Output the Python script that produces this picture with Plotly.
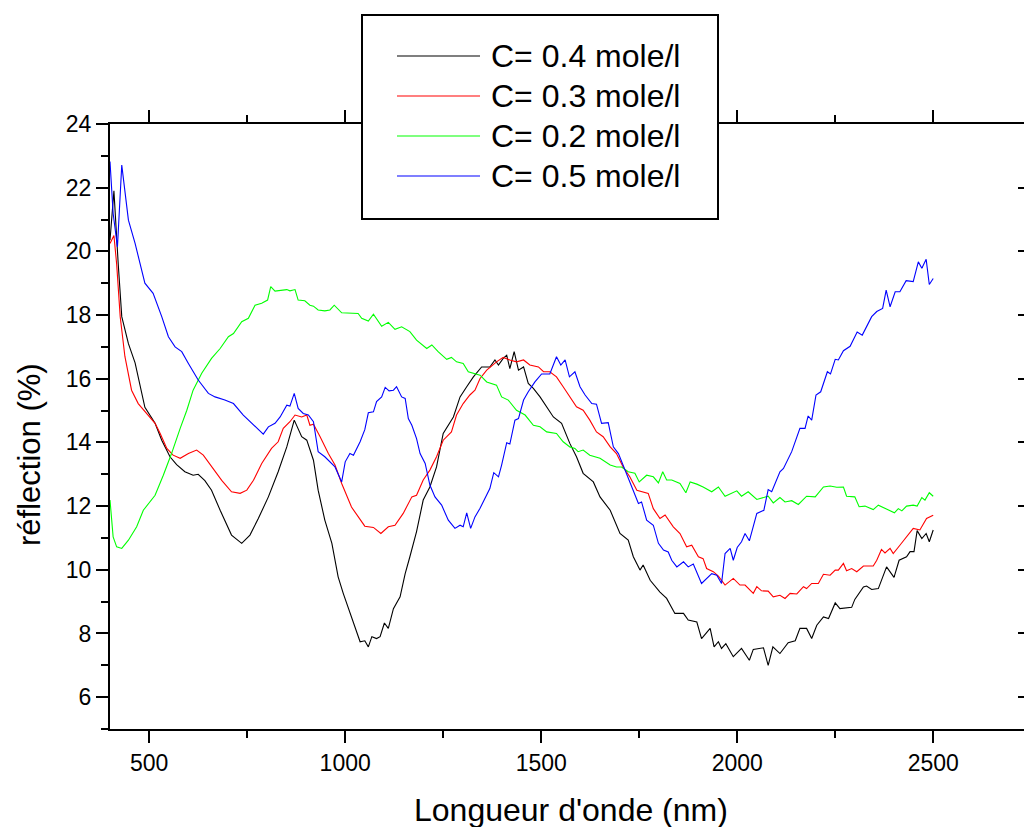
import plotly.graph_objects as go

# ---------------- data ----------------
names = ["C= 0.4 mole/l", "C= 0.3 mole/l", "C= 0.2 mole/l", "C= 0.5 mole/l"]
colors = ["#000000", "#ff0000", "#00ff00", "#0000ff"]

x_c04 = [400, 410, 421, 430, 447, 464, 489, 515, 532, 553,
         570, 591, 612, 625, 642, 659, 681, 710, 736, 757,
         778, 804, 829, 851, 870, 889, 902, 919, 931, 948,
         966, 982, 995, 1016, 1038, 1050, 1059, 1068, 1080, 1089,
         1100, 1110, 1123, 1140, 1153, 1165, 1182, 1199, 1216, 1233,
         1250, 1276, 1293, 1310, 1327, 1348, 1369, 1382, 1391, 1403,
         1412, 1420, 1431, 1442, 1455, 1467, 1480, 1497, 1514, 1531,
         1552, 1573, 1590, 1607, 1633, 1650, 1676, 1701, 1722, 1735,
         1752, 1760, 1778, 1803, 1820, 1841, 1863, 1875, 1897, 1909,
         1931, 1941, 1952, 1960, 1971, 1990, 2011, 2031, 2041, 2067,
         2079, 2091, 2109, 2130, 2148, 2160, 2177, 2190, 2203, 2220,
         2233, 2250, 2262, 2292, 2300, 2322, 2330, 2343, 2360, 2368,
         2381, 2400, 2413, 2432, 2441, 2451, 2459, 2471, 2482, 2490,
         2500]
y_c04 = [20.35, 21.9, 19.6, 17.95, 17.1, 16.5, 15.1, 14.6, 14.07, 13.55,
         13.3, 13.08, 12.97, 13.0, 12.8, 12.5, 11.87, 11.09, 10.83, 11.09,
         11.6, 12.29, 13.08, 13.86, 14.7, 14.18, 14.07, 13.44, 12.5, 11.56,
         10.83, 9.78, 9.26, 8.52, 7.74, 7.77, 7.58, 7.9, 7.84, 7.9,
         8.33, 8.16, 8.78, 9.15, 9.88, 10.41, 11.2, 12.19, 12.6, 13.23,
         14.28, 14.8, 15.43, 15.75, 16.06, 16.37, 16.37, 16.59, 16.43, 16.64,
         16.74, 16.32, 16.85, 16.27, 16.37, 15.85, 15.7, 15.43, 15.12, 14.8,
         14.6, 13.97, 13.55, 13.03, 12.76, 12.29, 11.87, 11.14, 10.93, 10.41,
         9.99, 10.15, 9.67, 9.3, 9.1, 8.63, 8.63, 8.42, 8.36, 7.84,
         8.16, 7.58, 7.74, 7.53, 7.68, 7.27, 7.53, 7.16, 7.5, 7.55,
         7.0, 7.58, 7.37, 7.71, 7.77, 8.16, 8.16, 7.84, 8.26, 8.52,
         8.47, 8.96, 8.78, 8.82, 9.07, 9.46, 9.49, 9.38, 9.41, 9.67,
         10.09, 9.76, 10.3, 10.41, 10.57, 10.57, 11.23, 10.98, 11.14, 10.88,
         11.25]

x_c03 = [400, 410, 417, 426, 438, 455, 472, 494, 515, 528,
         545, 561, 579, 600, 621, 638, 659, 685, 710, 732,
         749, 766, 787, 812, 829, 842, 859, 872, 889, 902,
         910, 919, 936, 957, 974, 991, 1016, 1033, 1050, 1072,
         1091, 1110, 1127, 1148, 1170, 1182, 1199, 1216, 1233, 1250,
         1271, 1284, 1301, 1318, 1331, 1344, 1361, 1386, 1403, 1420,
         1437, 1455, 1471, 1493, 1506, 1522, 1539, 1556, 1573, 1590,
         1607, 1624, 1641, 1658, 1676, 1692, 1709, 1726, 1744, 1760,
         1773, 1786, 1803, 1816, 1837, 1854, 1871, 1884, 1901, 1913,
         1922, 1939, 1952, 1969, 1990, 2007, 2020, 2041, 2050, 2062,
         2079, 2092, 2109, 2122, 2135, 2152, 2169, 2177, 2190, 2207,
         2220, 2237, 2250, 2258, 2271, 2279, 2292, 2305, 2322, 2347,
         2356, 2368, 2377, 2390, 2398, 2415, 2432, 2449, 2466, 2483,
         2500]
y_c03 = [20.25, 20.5, 19.6, 17.95, 16.7, 15.64, 15.22, 14.9, 14.6, 14.28,
         13.81, 13.6, 13.5, 13.65, 13.76, 13.6, 13.23, 12.81, 12.45, 12.4,
         12.5, 12.81, 13.34, 13.81, 14.02, 14.44, 14.65, 14.86, 14.8, 14.86,
         14.54, 14.57, 14.18, 13.65, 13.29, 12.71, 11.97, 11.66, 11.37, 11.33,
         11.14, 11.35, 11.4, 11.77, 12.29, 12.34, 12.82, 13.13, 13.55, 14.07,
         14.33, 14.86, 15.22, 15.49, 15.64, 16.01, 16.27, 16.53, 16.67, 16.59,
         16.53, 16.59, 16.43, 16.37, 16.22, 16.22, 16.06, 15.75, 15.43, 15.12,
         15.01, 14.7, 14.33, 14.18, 13.86, 13.65, 13.23, 12.92, 12.5, 12.45,
         12.4, 11.92, 11.61, 11.72, 11.35, 11.14, 10.72, 10.77, 10.41, 10.35,
         10.04, 9.94, 9.8, 9.52, 9.73, 9.52, 9.52, 9.26, 9.47, 9.34,
         9.33, 9.15, 9.2, 9.1, 9.26, 9.24, 9.47, 9.41, 9.57, 9.57,
         9.86, 9.83, 9.99, 9.99, 10.2, 9.97, 10.04, 9.94, 10.12, 10.12,
         10.3, 10.64, 10.53, 10.67, 10.51, 10.77, 11.03, 11.3, 11.25, 11.61,
         11.71]

x_c02 = [400, 408, 417, 430, 447, 468, 485, 498, 515, 536,
         557, 579, 596, 612, 634, 659, 681, 702, 715, 736,
         753, 770, 787, 802, 810, 821, 838, 851, 859, 872,
         880, 897, 910, 919, 931, 948, 961, 972, 991, 1016,
         1033, 1042, 1059, 1072, 1080, 1093, 1110, 1127, 1144, 1165,
         1182, 1208, 1221, 1237, 1259, 1271, 1284, 1301, 1314, 1327,
         1344, 1361, 1386, 1399, 1416, 1437, 1459, 1480, 1497, 1514,
         1539, 1556, 1573, 1586, 1594, 1607, 1624, 1650, 1676, 1692,
         1705, 1722, 1739, 1750, 1769, 1786, 1799, 1810, 1820, 1833,
         1854, 1869, 1880, 1897, 1913, 1935, 1952, 1969, 1982, 1999,
         2011, 2028, 2050, 2067, 2079, 2092, 2109, 2122, 2139, 2156,
         2177, 2199, 2220, 2237, 2254, 2271, 2279, 2300, 2311, 2326,
         2347, 2360, 2381, 2401, 2411, 2420, 2432, 2449, 2459, 2471,
         2479, 2490, 2500]
y_c02 = [12.19, 11.03, 10.72, 10.67, 10.93, 11.35, 11.87, 12.08, 12.34, 12.97,
         13.65, 14.44, 15.01, 15.64, 16.17, 16.64, 16.95, 17.32, 17.42, 17.79,
         17.9, 18.31, 18.37, 18.47, 18.89, 18.75, 18.78, 18.8, 18.76, 18.8,
         18.47, 18.45, 18.31, 18.28, 18.16, 18.13, 18.16, 18.31, 18.07, 18.07,
         18.05, 17.9, 17.81, 18.03, 17.9, 17.65, 17.77, 17.55, 17.63, 17.48,
         17.21, 16.95, 17.06, 16.85, 16.61, 16.67, 16.53, 16.48, 16.22, 16.17,
         16.11, 15.9, 15.8, 15.43, 15.33, 15.01, 14.86, 14.54, 14.49, 14.33,
         14.28, 14.02, 13.86, 13.81, 13.71, 13.76, 13.6, 13.5, 13.29, 13.23,
         13.23, 13.08, 13.03, 12.76, 12.97, 12.92, 12.73, 13.08, 12.82, 12.82,
         12.71, 12.42, 12.76, 12.69, 12.6, 12.45, 12.6, 12.31, 12.39, 12.48,
         12.31, 12.45, 12.21, 12.27, 12.31, 12.1, 12.27, 12.13, 12.17, 12.05,
         12.31, 12.29, 12.6, 12.63, 12.59, 12.6, 12.31, 12.29, 11.98, 12.0,
         11.89, 12.03, 11.92, 11.79, 11.92, 11.85, 12.0, 12.03, 12.0, 12.27,
         12.19, 12.42, 12.31]

x_c05 = [400, 408, 419, 430, 447, 464, 489, 510, 532, 549,
         566, 583, 600, 625, 651, 668, 693, 715, 740, 757,
         778, 791, 804, 821, 834, 851, 859, 870, 880, 893,
         906, 919, 931, 948, 974, 991, 1000, 1012, 1021, 1038,
         1050, 1059, 1072, 1080, 1093, 1102, 1112, 1123, 1131, 1144,
         1153, 1161, 1170, 1182, 1191, 1204, 1216, 1229, 1246, 1263,
         1280, 1293, 1301, 1310, 1320, 1331, 1344, 1357, 1369, 1379,
         1391, 1399, 1412, 1420, 1433, 1442, 1455, 1467, 1484, 1501,
         1522, 1539, 1550, 1561, 1572, 1586, 1599, 1612, 1629, 1641,
         1654, 1671, 1684, 1697, 1709, 1726, 1748, 1756, 1769, 1786,
         1799, 1812, 1824, 1833, 1846, 1863, 1875, 1888, 1909, 1935,
         1948, 1960, 1969, 1982, 1990, 2000, 2011, 2020, 2031, 2050,
         2068, 2079, 2088, 2109, 2118, 2139, 2160, 2173, 2181, 2190,
         2201, 2213, 2230, 2238, 2250, 2258, 2271, 2288, 2306, 2319,
         2343, 2356, 2371, 2380, 2390, 2403, 2415, 2431, 2449, 2462,
         2471, 2482, 2490, 2500]
y_c05 = [22.82, 21.19, 20.14, 22.71, 20.98, 20.25, 19.0, 18.68, 17.95, 17.32,
         17.0, 16.85, 16.48, 15.96, 15.54, 15.43, 15.33, 15.22, 14.86, 14.65,
         14.39, 14.26, 14.49, 14.6, 14.8, 15.17, 15.14, 15.54, 15.07, 14.91,
         14.86, 14.65, 13.71, 13.55, 13.23, 12.76, 13.39, 13.65, 13.6, 14.02,
         14.4, 14.93, 14.96, 15.28, 15.43, 15.73, 15.62, 15.64, 15.75, 15.43,
         15.38, 14.75, 14.54, 14.12, 13.65, 13.34, 12.66, 12.29, 12.03, 11.56,
         11.3, 11.4, 11.35, 11.79, 11.3, 11.66, 11.93, 12.24, 12.55, 13.05,
         12.92, 13.29, 13.99, 13.95, 14.7, 14.75, 15.33, 15.59, 15.9, 16.15,
         16.15, 16.69, 16.43, 16.59, 16.06, 16.22, 15.75, 15.49, 15.22, 15.2,
         14.6, 14.62, 13.86, 13.65, 13.29, 12.76, 12.08, 12.13, 11.56, 11.4,
         10.83, 10.62, 10.56, 10.3, 10.09, 10.25, 10.09, 10.18, 9.57, 9.88,
         9.83, 9.57, 10.51, 10.67, 10.3, 10.7, 10.88, 11.14, 10.91, 11.77,
         11.87, 12.52, 12.45, 13.08, 13.18, 13.71, 14.44, 14.44, 14.83, 14.7,
         15.49, 15.59, 16.22, 16.15, 16.61, 16.59, 16.88, 17.02, 17.47, 17.37,
         17.95, 18.11, 18.21, 18.78, 18.26, 18.73, 18.73, 19.08, 19.05, 19.67,
         19.47, 19.75, 18.96, 19.15]

x_range = [400, 2731.6]
y_range = [5, 24]
x_ticks = [500, 1000, 1500, 2000, 2500]
y_ticks = [6, 8, 10, 12, 14, 16, 18, 20, 22, 24]
x_title = "Longueur d'onde (nm)"
y_title = "réflection (%)"

series_x = [x_c04, x_c03, x_c02, x_c05]
series_y = [y_c04, y_c03, y_c02, y_c05]

# ---------------- figure ----------------
W, H = 1024, 827
ML, MR, MT, MB = 110, 0, 124, 98
PW, PH = W - ML - MR, H - MT - MB
FONT = "Liberation Sans, Arial, Helvetica, sans-serif"

fig = go.Figure()
for xs, ys, nm, col in zip(series_x, series_y, names, colors):
    assert len(xs) == len(ys), nm
    fig.add_trace(go.Scatter(x=xs, y=ys, mode="lines", name=nm,
                             line=dict(color=col, width=1.1),
                             showlegend=False))

# invisible companion trace so the right-hand (mirror) tick axis is drawn
fig.add_trace(go.Scatter(x=x_c04, y=y_c04, yaxis="y2", mode="lines",
                         line=dict(width=0), opacity=0, showlegend=False,
                         hoverinfo="skip"))

axis_common = dict(showgrid=False, zeroline=False, linecolor="black",
                   linewidth=2, tickcolor="black", tickwidth=2,
                   tickfont=dict(family=FONT, size=23, color="black"))

fig.update_layout(
    width=W, height=H,
    margin=dict(l=ML, r=MR, t=MT, b=MB, pad=0),
    paper_bgcolor="white", plot_bgcolor="white",
    font=dict(family=FONT, color="black"),
    showlegend=False,
    xaxis=dict(range=x_range, tickvals=x_ticks, showline=True, mirror="ticks",
               ticks="outside", ticklen=12,
               minor=dict(dtick=250, tick0=0, ticks="outside", ticklen=7,
                          tickwidth=2, tickcolor="black"),
               **axis_common),
    yaxis=dict(range=y_range, tickvals=y_ticks, showline=True, mirror=False,
               ticks="outside", ticklen=12,
               minor=dict(dtick=1, tick0=0, ticks="outside", ticklen=7,
                          tickwidth=2, tickcolor="black"),
               **axis_common),
    yaxis2=dict(range=y_range, tickvals=y_ticks, overlaying="y", side="right",
                showline=False, showgrid=False, zeroline=False,
                ticks="inside", ticklen=6, tickwidth=2, tickcolor="black",
                showticklabels=False),
)

def px_x(px):
    return (px - ML) / PW

def px_y(py):
    return (H - MB - py) / PH

# axis titles (placed where the original puts them)
fig.add_annotation(text=x_title, xref="paper", yref="paper",
                   x=px_x(571), y=px_y(810), xanchor="center", yanchor="middle",
                   showarrow=False, font=dict(family=FONT, size=32, color="black"))
fig.add_annotation(text=y_title, xref="paper", yref="paper", textangle=-90,
                   x=px_x(29), y=px_y(455), xanchor="center", yanchor="middle",
                   showarrow=False, font=dict(family=FONT, size=31, color="black"))

# ---------------- legend box (drawn like the original) ----------------
LEG_LEFT, LEG_TOP, LEG_RIGHT, LEG_BOTTOM = 362, 15, 718, 219
LEG_ROW0, LEG_ROW_STEP = 56, 40
LEG_LINE_X0, LEG_LINE_X1, LEG_TEXT_X = 397, 480, 489

fig.add_shape(type="rect", xref="paper", yref="paper",
              x0=px_x(LEG_LEFT), x1=px_x(LEG_RIGHT),
              y0=px_y(LEG_BOTTOM), y1=px_y(LEG_TOP),
              line=dict(color="black", width=2), fillcolor="white",
              layer="above")
for i, (nm, col) in enumerate(zip(names, colors)):
    ry = px_y(LEG_ROW0 + i * LEG_ROW_STEP)
    fig.add_shape(type="line", xref="paper", yref="paper",
                  x0=px_x(LEG_LINE_X0), x1=px_x(LEG_LINE_X1), y0=ry, y1=ry,
                  line=dict(color=col, width=1.1), layer="above")
    fig.add_annotation(text=nm, xref="paper", yref="paper",
                       x=px_x(LEG_TEXT_X), y=ry, xanchor="left",
                       yanchor="middle", showarrow=False,
                       font=dict(family=FONT, size=32, color="black"))

fig.write_html("out.html")
